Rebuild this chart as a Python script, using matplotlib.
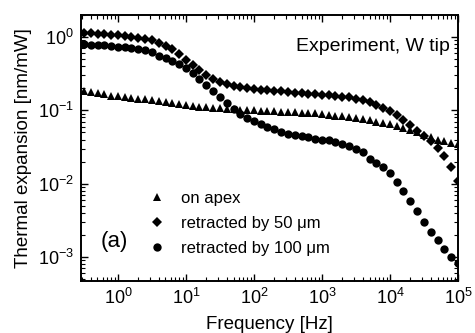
import matplotlib
matplotlib.use("Agg")
import matplotlib.pyplot as plt

plt.rcParams['font.family'] = ['Liberation Sans', 'DejaVu Sans']
plt.rcParams['mathtext.default'] = 'regular'

# Frequencies [Hz], ten points per decade
freq = [0.316, 0.398, 0.501, 0.631, 0.794,
        1.0, 1.26, 1.58, 2.0, 2.51, 3.16, 3.98, 5.01, 6.31, 7.94,
        10, 12.6, 15.8, 20.0, 25.1, 31.6, 39.8, 50.1, 63.1, 79.4,
        100, 126, 158, 200, 251, 316, 398, 501, 631, 794,
        1000, 1260, 1580, 2000, 2510, 3160, 3980, 5010, 6310, 7940,
        1.0e4, 1.26e4, 1.58e4, 2.0e4, 2.51e4, 3.16e4, 3.98e4, 5.01e4, 6.31e4, 7.94e4,
        1.0e5]

# Thermal expansion [nm/mW]
on_apex = [0.182, 0.178, 0.174, 0.166, 0.158,
           0.155, 0.151, 0.148, 0.145, 0.141, 0.138, 0.135, 0.132, 0.126, 0.123,
           0.117, 0.115, 0.112, 0.110, 0.109, 0.107, 0.105, 0.104, 0.102, 0.101,
           0.100, 0.099, 0.098, 0.097, 0.096, 0.095, 0.094, 0.093, 0.092, 0.091,
           0.089, 0.087, 0.085, 0.083, 0.081, 0.079, 0.076, 0.073, 0.070, 0.068,
           0.066, 0.062, 0.058, 0.054, 0.050, 0.046, 0.043, 0.040, 0.038, 0.036,
           0.035]

retr_50 = [1.13, 1.12, 1.11, 1.10, 1.07,
           1.05, 1.02, 1.00, 0.98, 0.94, 0.90, 0.83, 0.76, 0.68, 0.58,
           0.49, 0.41, 0.355, 0.30, 0.27, 0.245, 0.23, 0.215, 0.205, 0.20,
           0.195, 0.19, 0.187, 0.184, 0.181, 0.178, 0.175, 0.172, 0.169, 0.166,
           0.163, 0.160, 0.157, 0.154, 0.150, 0.145, 0.138, 0.129, 0.119, 0.108,
           0.097, 0.086, 0.075, 0.064, 0.053, 0.045, 0.038, 0.031, 0.024, 0.017,
           0.011]

retr_100 = [0.80, 0.79, 0.78, 0.77, 0.76,
            0.74, 0.73, 0.71, 0.69, 0.66, 0.62, 0.56, 0.51, 0.47, 0.43,
            0.38, 0.32, 0.27, 0.225, 0.185, 0.15, 0.125, 0.105, 0.088, 0.078,
            0.071, 0.065, 0.059, 0.055, 0.051, 0.048, 0.046, 0.045, 0.043, 0.041,
            0.040, 0.039, 0.037, 0.035, 0.033, 0.030, 0.027, 0.022, 0.019, 0.017,
            0.014, 0.0105, 0.0080, 0.0058, 0.0043, 0.0030, 0.0022, 0.0017, 0.0013, 0.0010,
            0.00083]

labels = ["on apex", "retracted by 50 \u03bcm", "retracted by 100 \u03bcm"]

fig = plt.figure(figsize=(4.75, 3.33), dpi=100)
ax = fig.add_axes([0.1705, 0.1562, 0.7937, 0.7988])

ax.plot(freq, on_apex, ls='none', marker='^', ms=5.8, color='black', mew=0, label=labels[0])
ax.plot(freq, retr_50, ls='none', marker='D', ms=5.0, color='black', mew=0, label=labels[1])
ax.plot(freq, retr_100, ls='none', marker='o', ms=6.0, color='black', mew=0, label=labels[2])

ax.set_xscale('log')
ax.set_yscale('log')
ax.set_xlim(0.286, 1.0e5)
ax.set_ylim(4.7e-4, 2.0)

ax.set_xticks([1, 10, 100, 1e3, 1e4, 1e5])
ax.set_yticks([1e-3, 1e-2, 1e-1, 1])

for s in ax.spines.values():
    s.set_linewidth(1.4)
ax.tick_params(which='both', direction='in', top=True, right=True, labelsize=13)
ax.tick_params(which='major', length=5, width=1.0, pad=5)
ax.tick_params(which='minor', length=3, width=0.8)

ax.set_xlabel("Frequency [Hz]", fontsize=13.5, labelpad=6)
ax.set_ylabel("Thermal expansion [nm/mW]", fontsize=13.5, labelpad=4)

ax.text(0.775, 0.88, "Experiment, W tip", transform=ax.transAxes,
        ha='center', va='center', fontsize=14)
ax.text(0.0875, 0.15, "(a)", transform=ax.transAxes,
        ha='center', va='center', fontsize=16)

ax.legend(loc='upper left', bbox_to_anchor=(0.18, 0.339), frameon=False,
          fontsize=12, handlelength=1.0, handletextpad=0.95,
          labelspacing=0.6, borderpad=0, borderaxespad=0, markerscale=1.0)

fig.savefig("out.png", dpi=100, facecolor='white')
